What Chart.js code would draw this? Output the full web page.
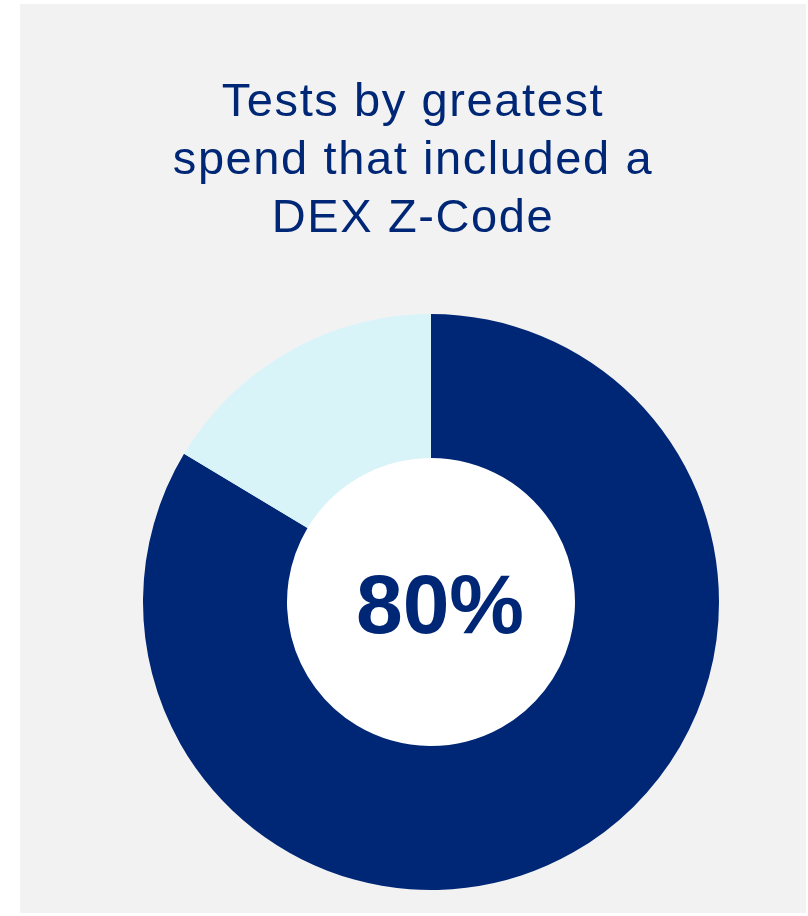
<!DOCTYPE html>
<html>
<head>
<meta charset="utf-8">
<script src="https://cdn.jsdelivr.net/npm/chart.js@4/dist/chart.umd.min.js"></script>
<style>
    body { margin: 0; background: #ffffff; }
    #panel { position: absolute; left: 20px; top: 4px; width: 786px; height: 909px; background: #f2f2f2; }
    canvas { display: block; }
</style>
</head>
<body>
<div id="panel">
    <canvas id="donutChart" width="786" height="909"></canvas>
</div>
<script>
// Chart data
const titleLines = ['Tests by greatest', 'spend that included a', 'DEX Z-Code'];
const categories = ['Included a DEX Z-Code', 'Did not include a DEX Z-Code'];
const shareValues = [83.6, 16.4];
const centerLabel = '80%';

const NAVY = '#002776';
const LIGHT = '#d9f4f9';
const FONT = '"Liberation Sans", Arial, sans-serif';

/**
 * White hole in the middle + big center label
 */
const centerPlugin = {
    id: 'centerLabel',
    afterLayout(chart) {
        // title sits a bit left of the donut in the original
        chart.titleBlock.left = 0;
        chart.titleBlock.right = 786;
    },
    beforeDraw(chart) {
        // title in the original is spaced a little wider
        chart.ctx.letterSpacing = '1.6px';
    },
    beforeDatasetsDraw(chart) {
        const ctx = chart.ctx;
        ctx.letterSpacing = '0px';
        const arc = chart.getDatasetMeta(0).data[0];
        if (!arc) return;
        ctx.save();
        ctx.fillStyle = '#ffffff';
        ctx.beginPath();
        ctx.arc(arc.x, arc.y, arc.innerRadius, 0, Math.PI * 2);
        ctx.fill();
        ctx.restore();
    },
    afterDatasetsDraw(chart) {
        const arc = chart.getDatasetMeta(0).data[0];
        if (!arc) return;
        const ctx = chart.ctx;
        ctx.save();
        ctx.fillStyle = NAVY;
        ctx.font = `bold 84px ${FONT}`;
        ctx.textAlign = 'center';
        ctx.textBaseline = 'alphabetic';
        ctx.fillText(centerLabel, arc.x + 9, arc.y + 31);
        ctx.restore();
    }
};

const ctx = document.getElementById('donutChart').getContext('2d');
new Chart(ctx, {
    type: 'doughnut',
    data: {
        labels: categories,
        datasets: [{
            data: shareValues,
            backgroundColor: [NAVY, LIGHT],
            borderWidth: 0
        }]
    },
    options: {
        responsive: false,
        animation: false,
        cutout: '50%',
        layout: { padding: { top: 0, left: 123, right: 87, bottom: 23 } },
        plugins: {
            legend: { display: false },
            tooltip: { enabled: false },
            title: {
                display: true,
                text: titleLines,
                color: NAVY,
                font: { family: FONT, size: 47, weight: 'normal', lineHeight: 58 / 47 },
                padding: { top: 70, bottom: 66 }
            }
        }
    },
    plugins: [centerPlugin]
});
</script>
</body>
</html>
